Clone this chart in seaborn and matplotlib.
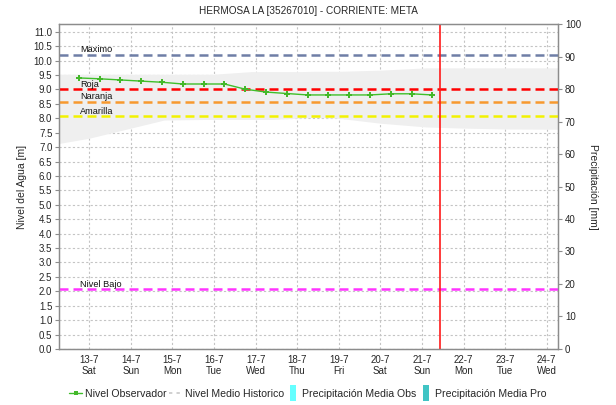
import matplotlib
matplotlib.use("Agg")
import matplotlib.pyplot as plt
from matplotlib.lines import Line2D
import numpy as np
import pandas as pd
import seaborn as sns

# Observed water level (day of July as fractional day, level in m)
obs_day = [12.75, 13.25, 13.75, 14.25, 14.75, 15.25, 15.75, 16.25, 16.75,
           17.25, 17.75, 18.25, 18.75, 19.25, 19.75, 20.25, 20.75, 21.25]
obs_level = [9.40, 9.37, 9.33, 9.29, 9.25, 9.19, 9.19, 9.19, 9.01,
             8.91, 8.86, 8.81, 8.81, 8.81, 8.81, 8.85, 8.85, 8.81]

# Historic range band (upper / lower envelope)
band_day = [12.28, 13.0, 14.0, 14.8, 15.8, 16.0, 16.9, 17.4, 18.1, 18.4,
            19.0, 20.0, 21.1, 22.0, 23.0, 24.27]
band_high = [9.53, 9.53, 9.53, 9.53, 9.53, 9.53, 9.62, 9.62, 9.62, 9.63,
             9.63, 9.67, 9.75, 9.75, 9.75, 9.75]
band_low = [7.13, 7.31, 7.66, 7.94, 7.96, 7.96, 7.96, 7.96, 8.01, 8.03,
            8.00, 7.83, 7.70, 7.66, 7.63, 7.62]

# Alert thresholds
threshold_names = ["Maximo", "Roja", "Naranja", "Amarilla", "Nivel Bajo"]
threshold_values = [10.2, 9.0, 8.57, 8.07, 2.07]
threshold_colors = ["#6f7ea6", "#ff0000", "#f7992e", "#f2f200", "#ff33ff"]

# Time axis ticks
tick_days = [13, 14, 15, 16, 17, 18, 19, 20, 21, 22, 23, 24]
tick_weekdays = ["Sat", "Sun", "Mon", "Tue", "Wed", "Thu", "Fri", "Sat",
                 "Sun", "Mon", "Tue", "Wed"]
now_day = 21.43

level_ticks = [i * 0.5 for i in range(23)]
precip_ticks = [0, 10, 20, 30, 40, 50, 60, 70, 80, 90, 100]

sns.set_theme(style="white")
plt.rcParams["font.family"] = ["Liberation Sans", "DejaVu Sans"]
plt.rcParams["axes.edgecolor"] = "#8c8c8c"

fig = plt.figure(figsize=(6.16, 4.05), dpi=100)
ax = fig.add_axes([0.0963, 0.1383, 0.8094, 0.8024])

ax.set_xlim(12.28, 24.27)
ax.set_ylim(0, 11.27)

# historic band
ax.fill_between(band_day, band_low, band_high, color="#efefef", lw=0, zorder=1)

# grid
ax.set_yticks(level_ticks)
ax.set_yticklabels([f"{v:.1f}" for v in level_ticks], fontsize=7)
ax.set_xticks(tick_days)
ax.set_xticklabels([f"{d}-7\n{w}" for d, w in zip(tick_days, tick_weekdays)],
                   fontsize=7, linespacing=1.15)
ax.grid(True, color="#c4c4c4", linestyle=(0, (2, 2)), linewidth=0.8, zorder=2)
ax.set_axisbelow(True)

# threshold lines and labels
for name, val, col in zip(threshold_names, threshold_values, threshold_colors):
    ax.axhline(val, color=col, lw=1.8, linestyle=(0, (3.6, 2.0)), zorder=3)
    ax.text(12.78, val + 0.02, name, fontsize=6.6, color="#111111",
            ha="left", va="bottom", zorder=5)

# observed level
obs = pd.DataFrame({"day": obs_day, "level": obs_level})
sns.lineplot(data=obs, x="day", y="level", ax=ax, color="#3fbf2a", lw=1.0,
             marker="P", markersize=5, markeredgewidth=0,
             markerfacecolor="#44b82a", zorder=6)

# current time
ax.axvline(now_day, color="#ff1a1a", lw=1.2, zorder=7)

ax.set_xlabel("")
ax.set_ylabel("Nivel del Agua [m]", fontsize=7.5, labelpad=5)
ax.tick_params(axis="y", which="both", length=3, width=0.8, color="#8c8c8c",
               pad=2, labelsize=7, left=True)
ax.tick_params(axis="x", length=2, width=0.8, color="#8c8c8c", pad=2)

# precipitation axis
ax2 = ax.twinx()
ax2.set_ylim(0, 100)
ax2.set_yticks(precip_ticks)
ax2.set_yticklabels([str(v) for v in precip_ticks], fontsize=7)
ax2.tick_params(axis="y", length=3, width=0.8, color="#8c8c8c", pad=2,
                right=True)
ax2.set_ylabel("Precipitación [mm]", fontsize=7.5, rotation=-90, labelpad=12)
ax2.grid(False)
for sp in list(ax.spines.values()) + list(ax2.spines.values()):
    sp.set_color("#8c8c8c")
    sp.set_linewidth(0.9)

ax.set_title("HERMOSA LA [35267010] - CORRIENTE: META", fontsize=7.2, pad=7)

# legend
rect = [(-0.4, -1), (0.4, -1), (0.4, 1), (-0.4, 1), (-0.4, -1)]
handles = [
    Line2D([0], [0], color="#3fbf2a", lw=1.0, marker="s", markersize=3,
           markerfacecolor="#44b82a", markeredgewidth=0),
    Line2D([0], [0], color="#c8c8c8", lw=1.2, linestyle=(0, (2, 2.5))),
    Line2D([0], [0], linestyle="none", marker=rect, markersize=11,
           markerfacecolor="#66ffff", markeredgewidth=0),
    Line2D([0], [0], linestyle="none", marker=rect, markersize=11,
           markerfacecolor="#40c4c4", markeredgewidth=0),
]
labels = ["Nivel Observador", "Nivel Medio Historico",
          "Precipitación Media Obs", "Precipitación Media Pro"]
fig.legend(handles, labels, loc="center", bbox_to_anchor=(0.50, 0.028),
           ncol=4, frameon=False, fontsize=7.6, handlelength=1.2,
           handletextpad=0.25, columnspacing=0.3, borderaxespad=0)

fig.savefig("out.png", dpi=100)
